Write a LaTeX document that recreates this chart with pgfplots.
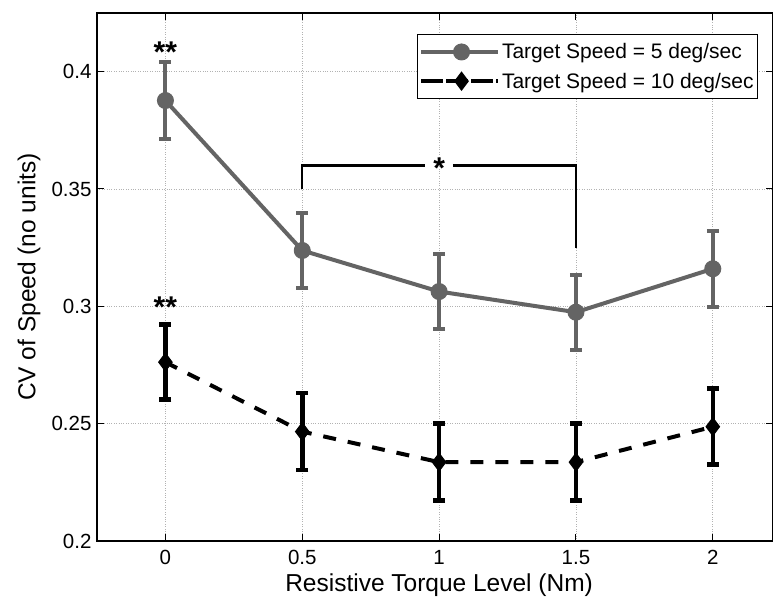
\documentclass[border=0pt]{standalone}
\usepackage{pgfplots}
\pgfplotsset{compat=1.18}
\usetikzlibrary{calc}
\usepackage{fontspec}
\setmainfont{Liberation Sans}
\definecolor{sgray}{RGB}{100,100,100}
\begin{document}
\begin{tikzpicture}
\begin{axis}[
  name=ax,
  scale only axis,
  width=676pt, height=528pt,
  xmin=-0.25, xmax=2.22,
  ymin=0.2, ymax=0.425,
  xtick={0,0.5,1,1.5,2},
  xticklabels={0,0.5,1,1.5,2},
  ytick={0.2,0.25,0.3,0.35,0.4},
  yticklabels={0.2,0.25,0.3,0.35,0.4},
  tick align=inside,
  major tick length=7pt,
  tick style={line width=1pt, black},
  axis line style={line width=1.2pt},
  grid=major,
  grid style={dotted, line width=0.9pt, gray!60},
  xlabel={Resistive Torque Level (Nm)},
  ylabel={CV of Speed (no units)},
  label style={font=\fontsize{24.5}{28}\selectfont},
  tick label style={font=\fontsize{20.5}{24}\selectfont},
  xticklabel style={yshift=-6pt},
  yticklabel style={xshift=-2pt},
  xlabel style={at={(axis cs:1,0.2)}, anchor=center, yshift=-44pt},
  ylabel style={at={(rel axis cs:0,0.5)}, anchor=center, yshift=68pt},
  legend style={at={(0.978,0.96)}, anchor=north east, font=\fontsize{21}{24}\selectfont,
    draw=black, line width=1pt, inner xsep=2pt, inner ysep=7pt, row sep=8.5pt,
    nodes={inner sep=2pt}},
  legend cell align=left,
  legend image code/.code={
    \path (0pt,0pt) -- (77pt,0pt);
    \draw[#1] (9pt,0pt) -- (72pt,0pt);
    \draw[#1, solid] plot coordinates {(40.5pt,0pt)};
  },
]
\addplot+[sgray, line width=4pt, mark=*, mark size=8pt,
  mark options={fill=sgray, draw=sgray, solid, line width=1pt},
  error bars/.cd, y dir=both, y explicit,
  error bar style={line width=4pt, sgray},
  error mark options={rotate=90, mark size=6pt, line width=4pt, sgray}]
  coordinates {
  (0,0.3877) +- (0,0.0165)
  (0.5,0.3238) +- (0,0.016)
  (1,0.3063) +- (0,0.016)
  (1.5,0.2975) +- (0,0.016)
  (2,0.3160) +- (0,0.0163)
  };
\addlegendentry{Target Speed = 5 deg/sec}
\addplot+[black, line width=4pt, dash pattern=on 13pt off 12pt, mark=diamond*, mark size=9pt,
  mark options={fill=black, draw=black, solid, line width=1pt},
  error bars/.cd, y dir=both, y explicit,
  error bar style={line width=4.5pt, black, solid},
  error mark options={rotate=90, mark size=6pt, line width=4.5pt, black, solid}]
  coordinates {
  (0,0.2762) +- (0,0.016)
  (0.5,0.2466) +- (0,0.0164)
  (1,0.2336) +- (0,0.0164)
  (1.5,0.2336) +- (0,0.0164)
  (2,0.2487) +- (0,0.0162)
  };
\addlegendentry{Target Speed = 10 deg/sec}
\draw[line width=2.2pt, black] (axis cs:0.5,0.35) -- (axis cs:0.5,0.36) -- (axis cs:0.95,0.36);
\draw[line width=2.2pt, black] (axis cs:1.05,0.36) -- (axis cs:1.5,0.36) -- (axis cs:1.5,0.325);
\node[font=\fontsize{30}{32}\selectfont\bfseries] at (axis cs:1,0.3588) {*};
\node[font=\fontsize{30}{32}\selectfont\bfseries] at (axis cs:0,0.4085) {**};
\node[font=\fontsize{30}{32}\selectfont\bfseries] at (axis cs:0,0.2995) {**};
\end{axis}
\pgfresetboundingbox
\path (ax.south west) ++(-97pt,-60pt) rectangle ($(ax.north west)+(676pt,13pt)$);
\end{tikzpicture}
\end{document}
